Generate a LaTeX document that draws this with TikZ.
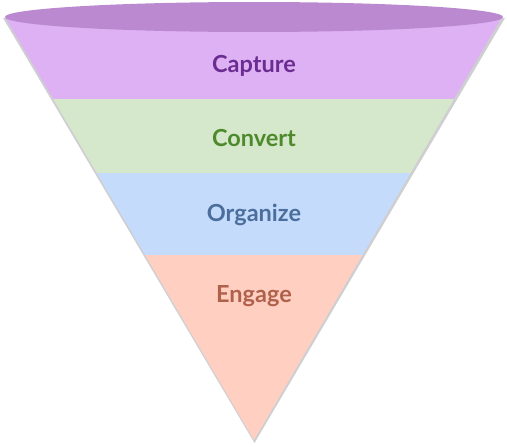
\documentclass[tikz,border=0pt]{standalone}
\usepackage{fontspec}
\setmainfont{Lato}
\usetikzlibrary{positioning}
\definecolor{ftop}{HTML}{BA89CF}
\definecolor{fcap}{HTML}{DDB1F3}
\definecolor{fcon}{HTML}{D5E8CB}
\definecolor{forg}{HTML}{C4DBFC}
\definecolor{feng}{HTML}{FFD0C2}
\definecolor{fshd}{HTML}{CFCFD2}
\definecolor{tcap}{HTML}{6B2D92}
\definecolor{tcon}{HTML}{4E8A2C}
\definecolor{torg}{HTML}{4B6E9C}
\definecolor{teng}{HTML}{B0614B}
\tikzset{
  lbl/.style={font=\fontsize{23.5}{26}\selectfont\bfseries, inner sep=0pt},
}
\begin{document}
\begin{tikzpicture}[x=1pt, y=-1pt]
  \useasboundingbox (0,0) rectangle (507,447);
  % soft shadow round the cone
  \fill[fshd] (3,18) -- (505,18) -- (254.5,443) -- cycle;
  % bands
  \begin{scope}
    \clip (5,17) -- (502,17) -- (254,440) -- cycle;
    \fill[fcap] (0,17) rectangle (507,99);
    \fill[fcon] (0,99) rectangle (507,173);
    \fill[forg] (0,173) rectangle (507,255);
    \fill[feng] (0,255) rectangle (507,447);
  \end{scope}
  % rim
  \fill[ftop] (254,17) ellipse [x radius=249, y radius=15];

  \node[lbl, text=tcap] (cap) at (254,66) {Capture};
  \node[lbl, text=tcon] (con) at (254,138) {Convert};
  \node[lbl, text=torg] (org) at (254,215) {Organize};
  \node[lbl, text=teng] (eng) at (254,296) {Engage};
\end{tikzpicture}
\end{document}
